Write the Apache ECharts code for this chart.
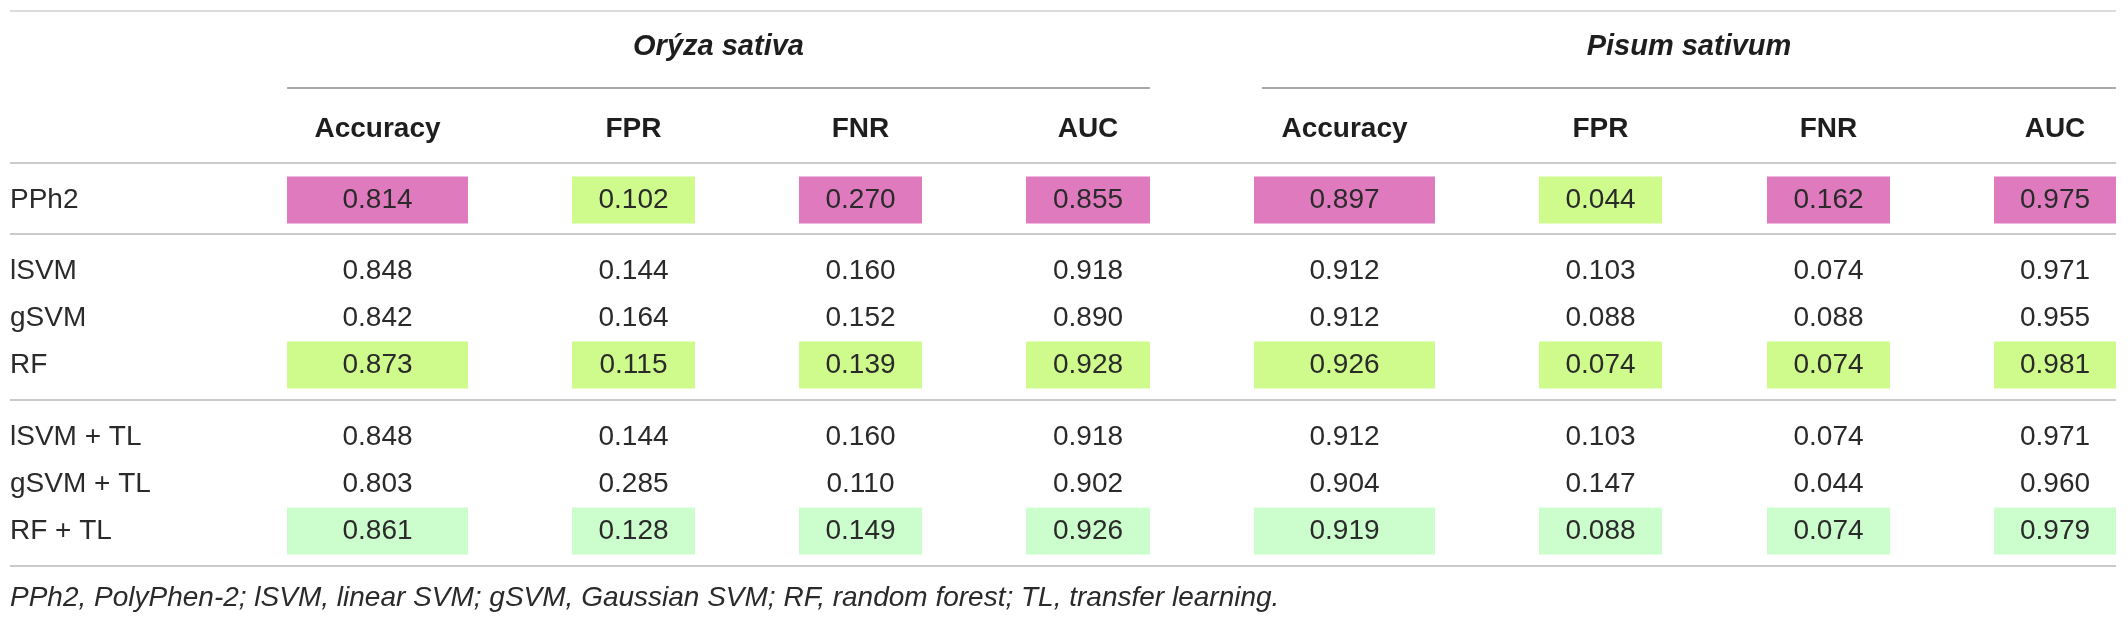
<!DOCTYPE html>
<html>
<head>
<meta charset="utf-8">
<title>Orýza sativa / Pisum sativum</title>
<script src="https://cdn.jsdelivr.net/npm/echarts@6.0.0/dist/echarts.min.js"></script>
<style>
  html, body { margin: 0; padding: 0; background: #fff; }
  #main { width: 2128px; height: 621px; }
</style>
</head>
<body>
<div id="main"></div>
<script>
// table content
const methods = ['PPh2', 'lSVM', 'gSVM', 'RF', 'lSVM + TL', 'gSVM + TL', 'RF + TL'];
const metrics = ['Accuracy', 'FPR', 'FNR', 'AUC'];
const species = ['Orýza sativa', 'Pisum sativum'];

const oryzaAccuracy = [0.814, 0.848, 0.842, 0.873, 0.848, 0.803, 0.861];
const oryzaFPR      = [0.102, 0.144, 0.164, 0.115, 0.144, 0.285, 0.128];
const oryzaFNR      = [0.270, 0.160, 0.152, 0.139, 0.160, 0.110, 0.149];
const oryzaAUC      = [0.855, 0.918, 0.890, 0.928, 0.918, 0.902, 0.926];

const pisumAccuracy = [0.897, 0.912, 0.912, 0.926, 0.912, 0.904, 0.919];
const pisumFPR      = [0.044, 0.103, 0.088, 0.074, 0.103, 0.147, 0.088];
const pisumFNR      = [0.162, 0.074, 0.088, 0.074, 0.074, 0.044, 0.074];
const pisumAUC      = [0.975, 0.971, 0.955, 0.981, 0.971, 0.960, 0.979];

// cell marks per method (one letter per metric): p = pink, g = lime, m = mint
const cellMarks = ['pgpp', '', '', 'gggg', '', '', 'mmmm'];

const footnote = 'PPh2, PolyPhen-2; lSVM, linear SVM; gSVM, Gaussian SVM; RF, random forest; TL, transfer learning.';

// layout (pixel units of the value axes)
const W = 2128, H = 621;
const cellSpans = [[287, 468], [572, 695], [799, 922], [1026, 1150],
                   [1254, 1435], [1539, 1662], [1767, 1890], [1994, 2116]];
const groupSpans = [[287, 1150], [1262, 2116]];
const rowY = [200, 271, 318, 365, 437, 484, 531];
const headerY = 129, speciesY = 47, boxH = 47;
const labelX = 10, tableRight = 2116;
const rules = [
  { y: 11, color: '#dcdcdc', w: 2 },
  { y: 163, color: '#b8b8b8', w: 1.5 },
  { y: 234, color: '#b8b8b8', w: 1.5 },
  { y: 400, color: '#b8b8b8', w: 1.5 },
  { y: 566, color: '#b8b8b8', w: 1.5 }
];
const markColors = { p: '#df7abf', g: '#cffb8d', m: '#ccfdcc' };
const FONT = '"Liberation Sans", Arial, Helvetica, sans-serif';
const TEXT = '#2a2a2a';

const columns = [oryzaAccuracy, oryzaFPR, oryzaFNR, oryzaAUC,
                 pisumAccuracy, pisumFPR, pisumFNR, pisumAUC];

const cellData = [];
columns.forEach((col, c) => {
  col.forEach((v, r) => {
    const mark = cellMarks[r] ? cellMarks[r][c % 4] : '';
    cellData.push([c, r, v, mark]);
  });
});

const chart = echarts.init(document.getElementById('main'), null, { renderer: 'canvas' });

const option = {
  animation: false,
  backgroundColor: '#fff',
  title: {
    text: footnote,
    left: labelX,
    top: 584,
    padding: 0,
    textStyle: { fontFamily: FONT, fontStyle: 'italic', fontWeight: 'normal', fontSize: 28, color: TEXT }
  },
  grid: { left: 0, right: 0, top: 0, bottom: 0 },
  xAxis: { type: 'value', min: 0, max: W, show: false },
  yAxis: { type: 'value', min: 0, max: H, inverse: true, show: false },
  series: [
    {
      name: 'rules',
      type: 'custom',
      data: rules.map((r, i) => [i]),
      renderItem: function (params, api) {
        const r = rules[api.value(0)];
        const a = api.coord([labelX, r.y]);
        const b = api.coord([tableRight, r.y]);
        return {
          type: 'line',
          shape: { x1: a[0], y1: a[1], x2: b[0], y2: b[1] },
          style: { stroke: r.color, lineWidth: r.w }
        };
      }
    },
    {
      name: 'species',
      type: 'custom',
      data: species.map((s, i) => [i]),
      renderItem: function (params, api) {
        const i = api.value(0);
        const span = groupSpans[i];
        const a = api.coord([span[0], 88]);
        const b = api.coord([span[1], 88]);
        const t = api.coord([(span[0] + span[1]) / 2, speciesY]);
        return {
          type: 'group',
          children: [
            { type: 'line', shape: { x1: a[0], y1: a[1], x2: b[0], y2: b[1] },
              style: { stroke: '#8e8e8e', lineWidth: 1.5 } },
            { type: 'text', style: { text: species[i], x: t[0], y: t[1], align: 'center', verticalAlign: 'middle',
              fontFamily: FONT, fontSize: 29, fontWeight: 'bold', fontStyle: 'italic', fill: '#1e1e1e' } }
          ]
        };
      }
    },
    {
      name: 'headers',
      type: 'custom',
      data: cellSpans.map((s, i) => [i]),
      renderItem: function (params, api) {
        const c = api.value(0);
        const span = cellSpans[c];
        const t = api.coord([(span[0] + span[1]) / 2, headerY]);
        return {
          type: 'text',
          style: { text: metrics[c % 4], x: t[0], y: t[1], align: 'center', verticalAlign: 'middle',
            fontFamily: FONT, fontSize: 28, fontWeight: 'bold', fill: '#1e1e1e' }
        };
      }
    },
    {
      name: 'methods',
      type: 'custom',
      data: methods.map((m, i) => [i]),
      renderItem: function (params, api) {
        const r = api.value(0);
        const t = api.coord([labelX, rowY[r]]);
        return {
          type: 'text',
          style: { text: methods[r], x: t[0], y: t[1], align: 'left', verticalAlign: 'middle',
            fontFamily: FONT, fontSize: 28, fill: TEXT }
        };
      }
    },
    {
      name: 'cells',
      type: 'custom',
      data: cellData,
      renderItem: function (params, api) {
        const c = api.value(0), r = api.value(1), v = api.value(2);
        const mark = cellData[params.dataIndex][3];
        const span = cellSpans[c];
        const tl = api.coord([span[0], rowY[r] - boxH / 2]);
        const br = api.coord([span[1], rowY[r] + boxH / 2]);
        const mid = api.coord([(span[0] + span[1]) / 2, rowY[r]]);
        const children = [];
        if (mark) {
          children.push({ type: 'rect',
            shape: { x: tl[0], y: tl[1], width: br[0] - tl[0], height: br[1] - tl[1] },
            style: { fill: markColors[mark] } });
        }
        children.push({ type: 'text',
          style: { text: v.toFixed(3), x: mid[0], y: mid[1], align: 'center', verticalAlign: 'middle',
            fontFamily: FONT, fontSize: 28, fill: TEXT } });
        return { type: 'group', children: children };
      }
    }
  ]
};

chart.setOption(option);
</script>
</body>
</html>
